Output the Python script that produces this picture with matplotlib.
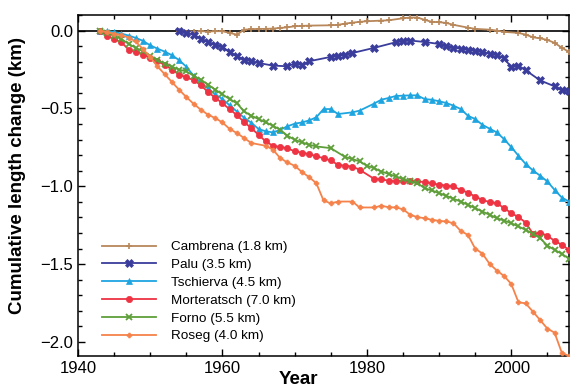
import matplotlib
matplotlib.use("Agg")
import matplotlib.pyplot as plt
from matplotlib.ticker import MultipleLocator

plt.rcParams['font.family'] = ['Liberation Sans', 'DejaVu Sans']

cam_years = [1954, 1956, 1957, 1958, 1959, 1960, 1961, 1962, 1963, 1964, 1965, 1966, 1967, 1968, 1969, 1970,
             1971, 1972, 1975, 1976, 1977, 1978, 1979, 1980, 1982, 1983, 1985, 1986, 1987, 1988, 1989, 1990,
             1991, 1992, 1994, 1995, 1997, 1998, 1999, 2001, 2002, 2003, 2004, 2005, 2006, 2007, 2008]
cam_vals = [0.0, -0.006, -0.004, -0.006, -0.004, -0.004, -0.015, -0.026, 0.006, 0.009, 0.011, 0.011, 0.013,
            0.017, 0.021, 0.028, 0.030, 0.032, 0.034, 0.037, 0.045, 0.051, 0.056, 0.060, 0.064, 0.066, 0.079,
            0.084, 0.084, 0.069, 0.056, 0.054, 0.049, 0.037, 0.019, 0.011, 0.006, 0.0, -0.008, -0.015, -0.026,
            -0.043, -0.050, -0.060, -0.079, -0.110, -0.137]

palu_years = [1954, 1955, 1956, 1957, 1958, 1959, 1960, 1961, 1962, 1963, 1964, 1965, 1967, 1969, 1970, 1971,
              1972, 1975, 1976, 1977, 1978, 1981, 1984, 1985, 1986, 1988, 1990, 1991, 1992, 1993, 1994, 1995,
              1996, 1997, 1998, 1999, 2000, 2001, 2002, 2004, 2006, 2007, 2008]
palu_vals = [0.0, -0.015, -0.026, -0.051, -0.073, -0.090, -0.105, -0.139, -0.165, -0.186, -0.197, -0.208,
             -0.225, -0.229, -0.212, -0.221, -0.197, -0.169, -0.165, -0.154, -0.144, -0.111, -0.075, -0.069,
             -0.064, -0.073, -0.086, -0.101, -0.109, -0.116, -0.124, -0.131, -0.139, -0.148, -0.159, -0.176,
             -0.236, -0.225, -0.255, -0.320, -0.358, -0.384, -0.390]

tsc_years = [1943, 1944, 1945, 1946, 1947, 1948, 1949, 1950, 1951, 1952, 1953, 1954, 1955, 1956, 1957, 1958,
             1959, 1960, 1961, 1962, 1963, 1964, 1965, 1966, 1967, 1968, 1969, 1970, 1971, 1972, 1973, 1974,
             1975, 1976, 1978, 1979, 1981, 1982, 1983, 1984, 1985, 1986, 1987, 1988, 1989, 1990, 1991, 1992,
             1993, 1994, 1995, 1996, 1997, 1998, 1999, 2000, 2001, 2002, 2003, 2004, 2005, 2006, 2007, 2008]
tsc_vals = [0.0, -0.003, -0.009, -0.019, -0.032, -0.047, -0.066, -0.095, -0.116, -0.135, -0.158, -0.190,
            -0.232, -0.290, -0.335, -0.370, -0.410, -0.440, -0.480, -0.520, -0.560, -0.592, -0.632, -0.647,
            -0.654, -0.637, -0.615, -0.598, -0.590, -0.577, -0.557, -0.504, -0.504, -0.536, -0.525, -0.514,
            -0.469, -0.444, -0.433, -0.420, -0.418, -0.416, -0.416, -0.440, -0.444, -0.454, -0.465, -0.482,
            -0.504, -0.547, -0.568, -0.605, -0.630, -0.654, -0.697, -0.748, -0.804, -0.857, -0.898, -0.932,
            -0.969, -1.023, -1.072, -1.098]

mor_years = [1943, 1944, 1945, 1946, 1947, 1948, 1949, 1950, 1951, 1952, 1953, 1954, 1955, 1956, 1957, 1958,
             1959, 1960, 1961, 1962, 1963, 1964, 1965, 1966, 1967, 1968, 1969, 1970, 1971, 1972, 1973, 1974,
             1975, 1976, 1977, 1978, 1979, 1981, 1982, 1983, 1984, 1985, 1986, 1987, 1988, 1989, 1990, 1991,
             1992, 1993, 1994, 1995, 1996, 1997, 1998, 1999, 2000, 2001, 2002, 2003, 2004, 2005, 2006, 2007, 2008]
mor_vals = [0.0, -0.032, -0.054, -0.075, -0.122, -0.137, -0.154, -0.176, -0.197, -0.220, -0.250, -0.283,
            -0.300, -0.318, -0.350, -0.395, -0.431, -0.467, -0.505, -0.543, -0.587, -0.627, -0.669, -0.712,
            -0.740, -0.748, -0.755, -0.776, -0.783, -0.794, -0.806, -0.820, -0.834, -0.862, -0.868, -0.873,
            -0.894, -0.952, -0.956, -0.963, -0.969, -0.963, -0.969, -0.969, -0.973, -0.980, -0.990, -0.995,
            -1.001, -1.023, -1.040, -1.066, -1.087, -1.102, -1.108, -1.140, -1.172, -1.198, -1.233, -1.305,
            -1.297, -1.318, -1.350, -1.376, -1.408]

for_years = [1943, 1944, 1945, 1946, 1947, 1948, 1949, 1950, 1951, 1952, 1953, 1954, 1955, 1956, 1957, 1958,
             1959, 1960, 1961, 1962, 1963, 1964, 1965, 1966, 1967, 1968, 1969, 1970, 1971, 1972, 1973, 1975,
             1977, 1978, 1979, 1980, 1981, 1982, 1983, 1984, 1985, 1986, 1987, 1988, 1989, 1990, 1991, 1992,
             1993, 1994, 1995, 1996, 1997, 1998, 1999, 2000, 2001, 2002, 2003, 2004, 2005, 2006, 2007, 2008]
for_vals = [0.0, -0.015, -0.032, -0.055, -0.085, -0.111, -0.133, -0.165, -0.190, -0.212, -0.232, -0.251,
            -0.262, -0.290, -0.315, -0.347, -0.379, -0.410, -0.440, -0.467, -0.519, -0.547, -0.568, -0.590,
            -0.611, -0.637, -0.675, -0.701, -0.718, -0.733, -0.744, -0.755, -0.812, -0.825, -0.840, -0.868,
            -0.883, -0.905, -0.920, -0.937, -0.952, -0.969, -0.980, -1.012, -1.027, -1.044, -1.061, -1.080,
            -1.098, -1.119, -1.140, -1.162, -1.183, -1.205, -1.220, -1.237, -1.258, -1.280, -1.305, -1.333,
            -1.381, -1.408, -1.434, -1.465]

ros_years = [1943, 1944, 1945, 1946, 1947, 1948, 1949, 1950, 1951, 1952, 1953, 1954, 1955, 1956, 1957, 1958,
             1959, 1960, 1961, 1962, 1963, 1964, 1966, 1967, 1968, 1969, 1970, 1971, 1972, 1973, 1974, 1975,
             1976, 1978, 1979, 1981, 1982, 1983, 1984, 1985, 1986, 1987, 1988, 1989, 1990, 1991, 1992, 1993,
             1994, 1995, 1996, 1997, 1998, 1999, 2000, 2001, 2002, 2003, 2004, 2005, 2006, 2007, 2008]
ros_vals = [0.0, -0.010, -0.020, -0.030, -0.045, -0.070, -0.120, -0.170, -0.230, -0.280, -0.330, -0.380,
            -0.427, -0.470, -0.508, -0.540, -0.562, -0.590, -0.632, -0.658, -0.690, -0.722, -0.740, -0.765,
            -0.819, -0.847, -0.868, -0.908, -0.941, -0.980, -1.091, -1.110, -1.098, -1.098, -1.136, -1.136,
            -1.125, -1.134, -1.136, -1.147, -1.183, -1.198, -1.205, -1.215, -1.222, -1.226, -1.237, -1.287,
            -1.312, -1.400, -1.432, -1.498, -1.541, -1.576, -1.627, -1.745, -1.752, -1.805, -1.859, -1.914,
            -1.940, -2.069, -2.090]

labels = ["Cambrena (1.8 km)", "Palu (3.5 km)", "Tschierva (4.5 km)",
          "Morteratsch (7.0 km)", "Forno (5.5 km)", "Roseg (4.0 km)"]

fig = plt.figure(figsize=(5.75, 3.89), dpi=100)
ax = fig.add_axes([0.1357, 0.0848, 0.8539, 0.8766])

ax.axhline(0, color='black', lw=1.2, zorder=1)

series = [
    (cam_years, cam_vals, '#B8875A', '+', 5, 1.2),
    (palu_years, palu_vals, '#3A3D9C', 'X', 5.5, 0.5),
    (tsc_years, tsc_vals, '#1EA5E0', '^', 4, 0.5),
    (mor_years, mor_vals, '#EE3343', 'o', 4.5, 0.5),
    (for_years, for_vals, '#5F9F3A', 'x', 5, 1.3),
    (ros_years, ros_vals, '#F5824A', 'P', 3.5, 0.5),
]
for (yrs, vals, col, mk, ms, mew), lab in zip(series, labels):
    ax.plot(yrs, vals, color=col, marker=mk, ms=ms, mew=mew, lw=1.3, label=lab, zorder=3)

ax.set_xlim(1940, 2008)
ax.set_ylim(-2.09, 0.10)
ax.xaxis.set_major_locator(MultipleLocator(20))
ax.xaxis.set_minor_locator(MultipleLocator(5))
ax.yaxis.set_major_locator(MultipleLocator(0.5))
ax.yaxis.set_minor_locator(MultipleLocator(0.1))
ax.tick_params(which='both', direction='in', top=True, right=True, labelsize=12)
ax.tick_params(which='major', length=5, width=1)
ax.tick_params(which='minor', length=3, width=1)
ax.yaxis.set_major_formatter(plt.FuncFormatter(lambda v, p: f"{v:.1f}".replace('-', '\u2212')))
for s in ax.spines.values():
    s.set_linewidth(1.1)

ax.set_xlabel("Year", fontsize=13.5, fontweight='bold')
ax.set_ylabel("Cumulative length change (km)", fontsize=13.5, fontweight='bold')
ax.xaxis.set_label_coords(0.448, -0.045)
ax.yaxis.set_label_coords(-0.105, 0.528)

ax.legend(loc='lower left', bbox_to_anchor=(0.03, 0.012), frameon=False, fontsize=9.7,
          handlelength=4.0, labelspacing=0.4, handletextpad=1.1, borderaxespad=0.3)

fig.savefig("out.png", dpi=100)
